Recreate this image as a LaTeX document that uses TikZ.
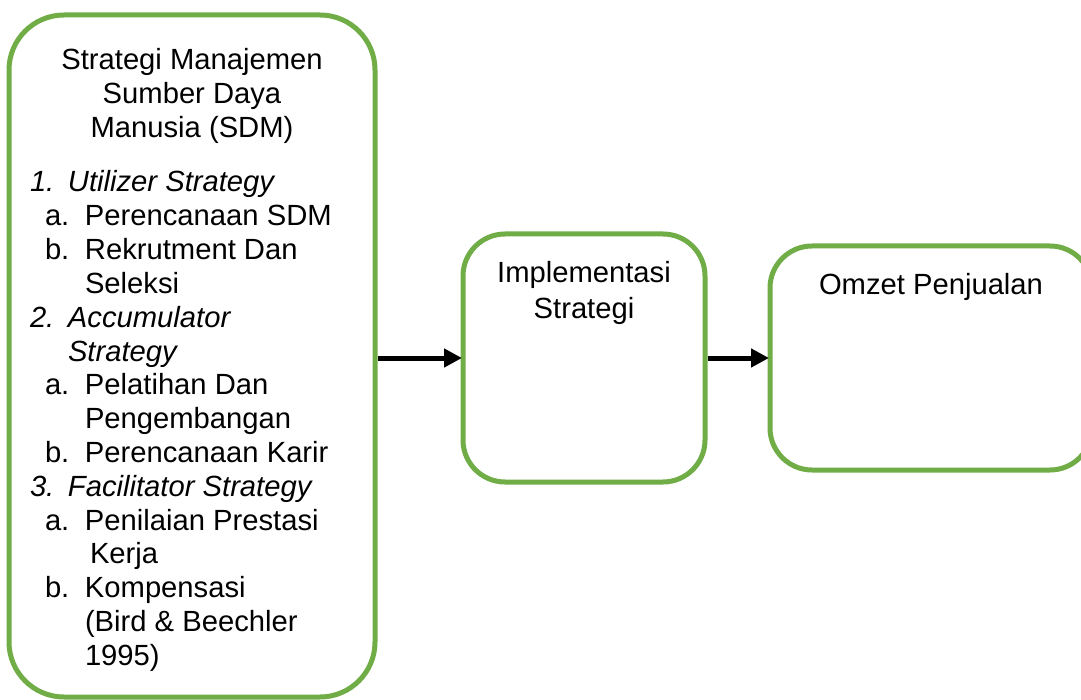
\documentclass[tikz,border=0pt]{standalone}
\usepackage{fontspec}
\setmainfont{Liberation Sans}
\usetikzlibrary{arrows.meta}
\definecolor{boxgreen}{HTML}{70AD47}
\tikzset{
  box/.style={draw=boxgreen, line width=5pt, fill=white, inner sep=0pt, outer sep=0pt},
  txt/.style={inner sep=0pt, outer sep=0pt, font=\fontsize{29.2}{34}\selectfont},
  item/.style={txt, anchor=base west},
  ctr/.style={txt, anchor=base},
  arr/.style={line width=5pt, -{Triangle[length=18pt,width=18pt]}}
}
\begin{document}
\begin{tikzpicture}[x=1pt,y=-1pt]
\clip (0,0) rectangle (1081,700);
\fill[white] (0,0) rectangle (1081,700);
% boxes
\node[box, rounded corners=55pt, minimum width=366pt, minimum height=682pt] (left) at (192,356) {};
\node[box, rounded corners=42pt, minimum width=242pt, minimum height=248pt] (mid) at (584,358) {};
\node[box, rounded corners=42pt, minimum width=322pt, minimum height=224pt] (right) at (931,358) {};
% title of left box
\node[ctr] (h1) at (192,70) {Strategi Manajemen};
\node[ctr] (h2) at (192,104) {Sumber Daya};
\node[ctr] (h3) at (192,138) {Manusia (SDM)};
% list
\node[item] (l1) at (30,192) {\itshape\makebox[38pt][l]{1.}Utilizer Strategy};
\node[item] (l2) at (45,225.8) {\makebox[40pt][l]{a.}Perencanaan SDM};
\node[item] (l3) at (45,259.6) {\makebox[40pt][l]{b.}Rekrutment Dan};
\node[item] (l4) at (85,293.4) {Seleksi};
\node[item] (l5) at (30,327.2) {\itshape\makebox[38pt][l]{2.}Accumulator};
\node[item] (l6) at (68,361) {\itshape Strategy};
\node[item] (l7) at (45,394.8) {\makebox[40pt][l]{a.}Pelatihan Dan};
\node[item] (l8) at (85,428.6) {Pengembangan};
\node[item] (l9) at (45,462.4) {\makebox[40pt][l]{b.}Perencanaan Karir};
\node[item] (l10) at (30,496.2) {\itshape\makebox[38pt][l]{3.}Facilitator Strategy};
\node[item] (l11) at (45,530) {\makebox[40pt][l]{a.}Penilaian Prestasi};
\node[item] (l12) at (90,563.8) {Kerja};
\node[item] (l13) at (45,597.6) {\makebox[40pt][l]{b.}Kompensasi};
\node[item] (l14) at (85,631.4) {(Bird \& Beechler};
\node[item] (l15) at (85,665.2) {1995)};
% middle and right texts
\node[ctr] (m1) at (584,283) {Implementasi};
\node[ctr] (m2) at (584,319) {Strategi};
\node[ctr] (r1) at (931,295) {Omzet Penjualan};
% arrows
\coordinate (a1s) at ([xshift=3pt]left.east |- mid.west);
\coordinate (a2s) at ([xshift=2.5pt]mid.east);
\draw[arr] (a1s) -- ([xshift=-1pt]mid.west);
\draw[arr] (a2s) -- ([xshift=-1pt]right.west |- mid.east);
\end{tikzpicture}
\end{document}
